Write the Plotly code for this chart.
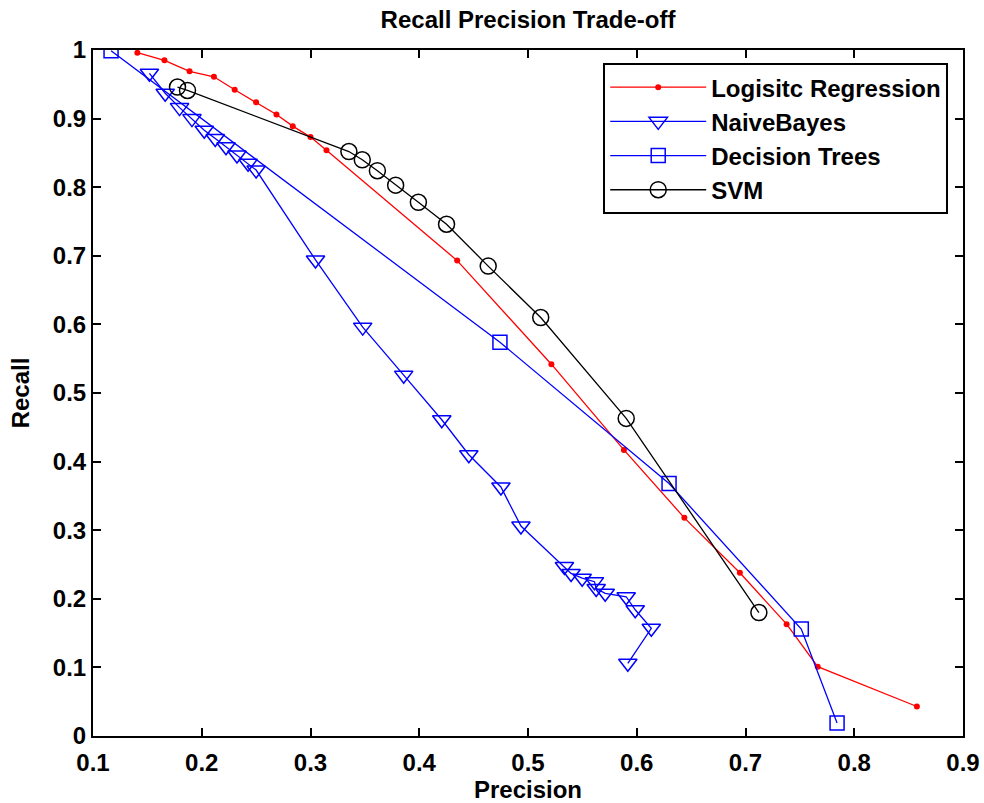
import plotly.graph_objects as go

lr_p = [0.1408, 0.1657, 0.1888, 0.2112, 0.2303, 0.2500, 0.2687, 0.2837, 0.3000, 0.3147,
        0.4349, 0.5215, 0.5882, 0.6438, 0.6948, 0.7378, 0.7664, 0.8576]
lr_r = [0.996, 0.985, 0.969, 0.961, 0.942, 0.924, 0.906, 0.889, 0.873, 0.854,
        0.693, 0.542, 0.417, 0.318, 0.238, 0.163, 0.101, 0.043]

nb_p = [0.1519, 0.1664, 0.1796, 0.1910, 0.2023, 0.2124, 0.2223, 0.2324, 0.2426, 0.2500,
        0.3046, 0.3480, 0.3857, 0.4207, 0.4456, 0.4751, 0.4935, 0.5335, 0.5396, 0.5498,
        0.5611, 0.5627, 0.5710, 0.5903, 0.5986, 0.6134, 0.5918]
nb_r = [0.966, 0.937, 0.916, 0.900, 0.883, 0.871, 0.859, 0.847, 0.835, 0.825,
        0.694, 0.596, 0.526, 0.461, 0.410, 0.363, 0.306, 0.247, 0.237, 0.230,
        0.225, 0.215, 0.208, 0.203, 0.184, 0.157, 0.106]

dt_p = [0.1166, 0.4742, 0.6297, 0.7513, 0.7842]
dt_r = [0.999, 0.574, 0.368, 0.156, 0.019]

svm_p = [0.1777, 0.1869, 0.3353, 0.3476, 0.3615, 0.3783, 0.3992, 0.4251, 0.4634, 0.5117,
         0.5903, 0.7123]
svm_r = [0.946, 0.941, 0.852, 0.840, 0.824, 0.803, 0.778, 0.746, 0.685, 0.610,
         0.463, 0.180]

x_ticks = [0.1, 0.2, 0.3, 0.4, 0.5, 0.6, 0.7, 0.8, 0.9]
x_labels = ["0.1", "0.2", "0.3", "0.4", "0.5", "0.6", "0.7", "0.8", "0.9"]
y_ticks = [0, 0.1, 0.2, 0.3, 0.4, 0.5, 0.6, 0.7, 0.8, 0.9, 1]
y_labels = ["0", "0.1", "0.2", "0.3", "0.4", "0.5", "0.6", "0.7", "0.8", "0.9", "1"]

FONT = "Liberation Sans, Arial, sans-serif"
BOLD24 = dict(family=FONT, size=24, color="black", weight="bold")

fig = go.Figure()
fig.add_trace(go.Scatter(x=lr_p, y=lr_r, mode="lines+markers", name="Logisitc Regression",
                         line=dict(color="#ff0000", width=1.3),
                         marker=dict(symbol="circle", size=6, color="#ff0000")))
fig.add_trace(go.Scatter(x=nb_p, y=nb_r, mode="lines+markers", name="NaiveBayes",
                         line=dict(color="#0000ff", width=1.3),
                         marker=dict(symbol="triangle-down-open", size=16, color="#0000ff",
                                     line=dict(width=1.5, color="#0000ff"))))
fig.add_trace(go.Scatter(x=dt_p, y=dt_r, mode="lines+markers", name="Decision Trees",
                         line=dict(color="#0000ff", width=1.3),
                         marker=dict(symbol="square-open", size=14, color="#0000ff",
                                     line=dict(width=1.5, color="#0000ff"))))
fig.add_trace(go.Scatter(x=svm_p, y=svm_r, mode="lines+markers", name="SVM",
                         line=dict(color="#000000", width=1.3),
                         marker=dict(symbol="circle-open", size=16, color="#000000",
                                     line=dict(width=1.5, color="#000000"))))

axis_common = dict(showgrid=False, zeroline=False, showline=True, linecolor="black",
                   linewidth=2, mirror="ticks", ticks="inside", ticklen=8, tickwidth=1.5,
                   tickcolor="black", automargin=False, tickfont=BOLD24,
                   ticklabeloverflow="allow")

W, H = 984, 803
fig.update_layout(
    width=W, height=H,
    margin=dict(l=93, r=21, t=50, b=67),
    paper_bgcolor="white", plot_bgcolor="white",
    title=dict(text="Recall Precision Trade-off", x=528 / W, xanchor="center",
               y=1 - 20 / H, yanchor="middle", font=BOLD24),
    xaxis=dict(range=[0.1, 0.9], tickvals=x_ticks, ticktext=x_labels,
               ticklabelstandoff=4,
               title=dict(text="Precision", standoff=10, font=BOLD24),
               **axis_common),
    yaxis=dict(range=[0, 1], tickvals=y_ticks, ticktext=y_labels,
               title=dict(text="Recall", standoff=16, font=BOLD24),
               **axis_common),
    legend=dict(x=0.983, xanchor="right", y=0.981, yanchor="top",
                bgcolor="white", bordercolor="black", borderwidth=2,
                font=BOLD24, itemwidth=96, tracegroupgap=0),
    showlegend=True,
)

# remove the browser's default 8px body margin so the figure fills the window exactly
fig.write_html("out.html", config={"displayModeBar": False},
               post_script="document.body.style.margin='0';")
